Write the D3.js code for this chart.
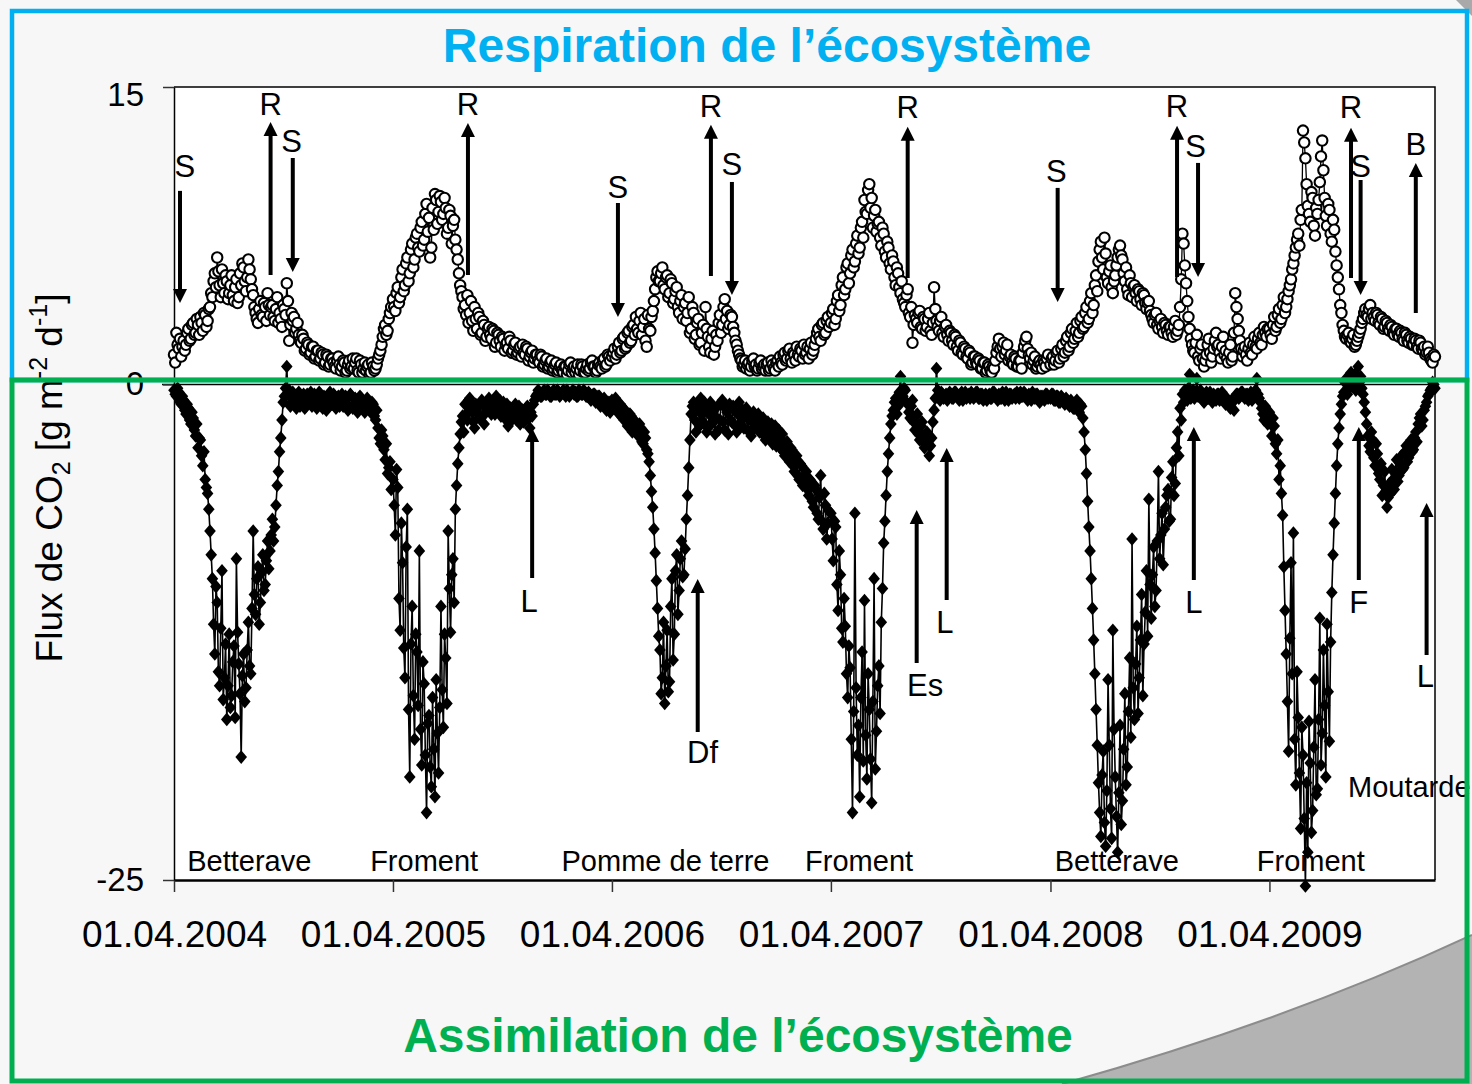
<!DOCTYPE html>
<html><head><meta charset="utf-8">
<script src="https://cdn.jsdelivr.net/npm/d3@7"></script>
<style>
body{margin:0;background:#f7f7f7;}
svg{display:block;font-family:"Liberation Sans",Arial,sans-serif;}
</style>
</head><body>
<svg id="chart" width="1472" height="1084"></svg>
<script>
// ---------- DATA ----------
// Each season starts 1 April; main arrays hold values on days 0,4,8,...; "mid" arrays on days 2,6,10,...
const seasonYears = [2004, 2005, 2006, 2007, 2008, 2009];
const stepDays = 4;

// Ecosystem respiration (g CO2 m-2 d-1)
const reco2004 = [1.5,2.6,1.8,1.4,2.2,2.0,2.8,2.3,3.1,2.6, 3.0,3.4,2.7,3.5,3.2,3.9,4.4,5.6,6.4,5.0,
  5.8,4.6,5.2,4.6,5.5,4.2,5.3,4.4,5.0,5.9, 4.7,6.3,5.3,4.5,3.6,3.1,4.2,3.4,3.9,4.6,
  3.5,4.0,3.2,4.4,3.6,2.9,3.8,5.1,2.2,3.6, 3.4,2.8,2.5,2.1,2.3,1.8,2.0,1.6,1.9,1.4,
  1.7,1.3,1.5,1.1,1.4,1.0,1.3,0.9,1.2,1.0, 0.9,1.1,0.7,1.2,0.9,0.8,1.3,0.6,1.0,0.8,
  0.7,1.0,0.6,0.9,0.8,1.3,1.7,2.4,3.0,2.7,3.6];
const reco2004mid = [1.1,2.0,2.3,1.9,1.7,2.6,2.2,3.0,2.5,3.3, 2.5,3.1,3.6,2.9,3.8,4.6,5.2,4.9,5.7,4.4,
  5.1,5.5,4.3,5.0,4.5,4.9,4.1,5.6,6.1,5.2, 5.4,5.8,4.8,3.9,3.3,3.8,3.5,4.1,3.2,4.0,
  3.9,3.4,3.8,3.1,3.3,4.0,3.5,4.2,3.0,3.2, 2.6,3.1,2.2,2.5,1.7,2.1,1.5,1.9,1.3,1.7,
  1.2,1.6,1.0,1.5,0.9,1.3,1.1,0.8,1.4,0.7, 1.2,0.6,1.0,0.8,1.3,1.1,0.7,1.2,0.6,1.1,
  0.9,0.5,1.1,0.7,1.0,1.5,2.0,2.8,2.5,3.3,3.9];
const reco2005 = [4.3,3.7,4.9,4.4,5.8,5.0,6.4,5.6,7.1,6.3, 7.6,6.7,8.2,7.3,9.1,8.4,6.9,7.8,9.3,8.7,
  9.2,8.6,8.9,7.9,8.5,8.0,7.3,6.3,5.0,4.4, 4.0,4.5,3.6,3.2,3.9,2.8,3.4,2.6,3.0,2.4,
  2.9,2.3,2.7,2.1,2.5,1.9,2.3,2.0,1.8,2.2, 1.7,2.1,1.6,1.9,2.0,1.5,1.8,1.4,1.7,1.3,
  1.5,1.1,1.4,1.0,1.3,0.9,1.2,0.8,1.1,0.7, 1.0,0.6,0.9,0.7,1.1,0.8,0.6,1.0,0.7,0.9,
  0.6,1.0,0.8,1.2,0.9,0.7,1.1,0.8,1.3,1.0,1.4];
const reco2005mid = [3.9,4.6,4.1,5.4,4.7,6.1,5.2,6.8,5.9,7.4, 6.9,7.9,7.0,8.6,7.7,6.4,8.9,9.6,8.1,9.5,
  8.3,9.4,7.6,8.8,7.1,8.3,6.8,5.6,4.7,3.8, 3.5,3.1,4.2,2.7,3.3,3.6,2.5,3.2,2.2,2.8,
  2.5,2.8,1.9,2.6,2.2,2.4,1.7,2.1,2.4,1.6, 2.0,1.5,1.8,1.4,1.6,1.9,1.2,1.6,1.1,1.5,
  1.2,1.5,0.9,1.2,0.8,1.1,0.7,1.0,0.6,0.9, 0.7,0.9,0.5,1.0,0.6,0.9,0.8,0.5,1.0,0.6,
  0.8,0.7,1.1,0.9,0.6,1.0,0.9,1.2,0.9,1.5,1.2];
const reco2006 = [1.4,1.8,1.5,2.1,1.7,2.4,1.9,2.7,2.2,3.0, 3.4,2.6,3.6,2.9,2.2,3.5,2.7,3.7,4.8,5.7,
  5.2,5.9,4.8,5.5,4.6,5.1,4.3,4.9,3.6,4.5, 3.9,3.2,4.4,2.8,3.6,2.5,3.3,2.1,3.0,3.9,
  2.4,1.6,2.7,1.9,2.2,3.5,3.0,4.3,3.7,3.0, 3.4,2.6,2.0,1.5,1.2,1.0,0.8,1.1,0.9,1.3,
  1.0,0.8,1.2,0.9,0.7,1.1,0.8,1.0,0.7,1.2, 1.4,1.0,1.6,1.3,1.8,1.1,1.5,1.9,1.4,1.7,
  2.0,1.6,1.3,2.1,1.7,2.3,2.8,2.2,3.1,2.6,3.4];
const reco2006mid = [1.6,1.3,1.9,1.6,2.3,1.8,2.6,2.1,2.9,2.5, 2.8,3.2,2.5,3.3,1.9,2.8,3.4,4.2,5.4,5.2,
  5.6,5.0,5.4,4.4,5.3,4.1,4.7,3.9,4.2,3.3, 4.1,3.6,2.6,3.9,2.3,3.1,2.0,2.6,1.7,2.8,
  1.9,2.3,1.5,2.5,3.1,2.6,3.9,3.3,2.8,3.5, 2.9,2.2,1.7,1.3,0.9,1.2,1.0,0.7,1.2,0.9,
  0.7,1.1,0.8,1.0,1.0,0.7,1.2,0.8,1.1,0.9, 1.1,1.5,1.2,1.7,1.3,1.6,1.2,1.5,1.8,1.3,
  1.5,1.9,1.8,1.5,2.0,2.6,2.4,3.0,2.5,3.2,2.9];
const reco2007 = [3.1,3.8,3.3,4.5,4.0,5.4,4.8,6.1,5.6,6.8, 6.2,7.5,6.9,8.2,9.3,8.6,10.1,9.4,8.5,7.7,
  8.2,7.0,7.6,6.4,6.9,5.8,6.2,5.0,5.6,4.6, 4.3,3.9,4.8,3.4,2.1,3.5,3.1,3.7,2.8,3.3,
  2.9,3.6,2.5,4.9,3.2,2.7,3.4,2.4,3.0,2.2, 2.6,2.0,2.4,1.7,2.1,1.5,1.8,1.3,1.6,1.1,
  1.4,1.0,1.2,0.8,1.1,0.7,0.9,0.6,0.8,1.6, 2.3,1.4,2.1,1.7,1.2,1.5,1.0,1.3,0.9,1.2,
  1.6,2.2,1.8,1.3,1.0,1.4,0.9,1.2,0.8,1.1,1.3];
const reco2007mid = [3.6,3.0,4.2,3.7,5.0,4.5,5.9,5.1,6.5,5.9, 7.1,6.6,7.9,7.4,8.7,9.8,8.9,7.9,8.8,8.1,
  7.4,7.9,6.7,7.2,6.1,6.5,5.4,5.9,4.9,5.2, 4.1,4.5,3.6,3.9,3.0,3.3,3.6,2.9,3.4,2.7,
  3.3,2.7,3.1,3.8,2.9,3.2,2.6,2.9,2.5,2.7, 2.2,2.5,1.9,2.2,1.6,1.9,1.4,1.7,1.0,1.4,
  1.1,1.3,0.8,1.1,0.6,1.0,0.7,0.9,1.2,1.9, 1.8,1.9,1.5,2.0,1.4,1.1,1.4,0.9,1.2,0.8,
  1.9,2.4,1.5,1.6,1.2,0.8,1.1,1.0,1.2,0.9,1.5];
const reco2008 = [1.0,1.4,1.2,1.7,1.3,2.0,1.6,2.4,1.9,2.8, 2.3,3.1,2.6,3.4,2.9,3.9,3.3,4.6,4.0,5.5,
  6.2,7.2,5.8,6.6,5.1,6.0,4.6,5.5,6.4,7.0, 6.3,5.2,4.8,5.5,4.4,5.0,4.2,4.7,4.0,4.5,
  3.8,4.2,3.5,3.1,3.6,2.8,3.3,2.6,3.0,2.5, 2.9,2.4,3.2,2.7,3.9,7.6,6.0,4.2,2.8,2.0,
  1.6,2.5,1.2,2.0,0.9,1.5,2.3,1.1,1.8,2.6, 2.0,1.3,2.4,1.7,1.1,2.0,1.4,4.6,3.3,2.2,
  1.4,1.9,1.2,2.1,1.5,2.4,1.8,2.6,2.0,2.9,2.4];
const reco2008mid = [1.3,1.0,1.6,1.1,1.8,1.4,2.2,1.7,2.6,2.1, 2.7,2.4,3.2,2.8,3.6,3.1,4.2,3.6,5.0,4.7,
  6.8,6.4,7.4,5.4,5.7,4.9,5.2,6.0,6.8,6.5, 5.6,5.9,4.5,5.1,4.9,4.6,4.8,4.3,4.6,4.1,
  4.1,3.7,3.3,3.5,3.0,3.2,2.9,3.1,2.7,2.9, 2.6,2.9,2.5,3.0,5.3,7.1,5.1,3.4,2.3,1.7,
  2.1,1.4,1.8,1.3,1.2,2.0,1.6,1.4,2.2,1.9, 1.6,1.9,1.5,1.3,1.6,1.2,2.6,3.9,2.7,1.8,
  1.7,1.5,1.8,1.6,2.0,1.9,2.3,2.1,2.5,2.6,2.8];
const reco2009 = [2.8,2.3,3.4,2.9,3.8,3.3,4.4,3.9,4.7,5.3, 6.1,6.9,7.6,8.3,12.8,11.4,9.0,8.2,9.4,7.5,
  8.6,10.2,12.3,9.4,8.0,8.8,7.2,7.8,6.0,4.8, 3.6,2.7,2.3,2.6,2.1,2.5,2.0,2.4,2.8,3.3,
  3.8,3.4,4.0,3.6,3.2,3.5,3.0,3.3,2.9,3.1, 2.7,2.9,2.5,2.8,2.4,2.6,2.2,2.5,2.1,2.3,
  2.0,2.2,1.8,2.1,1.7,1.5,1.9,1.3,1.1,1.4];
const reco2009mid = [2.5,3.0,2.7,3.5,3.1,4.0,3.6,4.3,5.0,5.8, 6.5,7.3,7.0,8.8,12.2,10.1,8.6,9.7,8.0,8.9,
  9.3,11.5,10.8,8.5,9.1,7.6,8.3,6.7,5.4,4.0, 3.0,2.4,2.5,2.2,2.3,1.9,2.2,2.6,3.1,3.6,
  3.5,3.8,3.3,3.4,3.6,3.1,3.4,2.8,3.2,2.8, 3.0,2.6,2.8,2.5,2.7,2.3,2.6,2.2,2.4,2.0,
  2.3,1.9,2.2,1.8,1.9,1.6,1.6,1.2,1.5];

// Ecosystem assimilation (g CO2 m-2 d-1)
const gpp2004 = [-0.3,-0.6,-0.4,-1.0,-0.8,-1.5,-1.2,-2.0,-1.7,-2.6, -3.2,-2.8,-4.1,-4.8,-5.5,-7.4,-9.8,-13.6,-11.0,-15.2,
  -9.4,-14.8,-16.9,-12.6,-15.7,-13.2,-8.8,-14.1,-18.8,-13.6, -15.3,-12.0,-14.6,-7.4,-11.6,-9.2,-11.0,-8.6,-10.1,-7.9,
  -8.4,-6.8,-7.2,-5.1,-3.4,-1.8,-0.6,0.9,-0.3,-0.9, -0.6,-1.2,-0.4,-0.9,-0.5,-1.1,-0.7,-0.4,-1.0,-0.6,
  -0.8,-0.5,-1.2,-0.7,-0.9,-0.4,-1.0,-0.6,-0.8,-1.1, -0.5,-0.9,-0.7,-1.2,-0.6,-1.0,-0.8,-1.3,-0.7,-0.9,
  -1.2,-0.8,-1.4,-1.0,-1.8,-2.2,-3.0,-2.6,-3.8,-4.5,-3.9];
const gpp2004mid = [-0.5,-0.2,-0.9,-0.6,-1.3,-1.0,-1.8,-1.4,-2.3,-2.0, -2.7,-3.6,-3.4,-5.2,-6.3,-8.6,-12.1,-10.2,-14.5,-12.3,
  -15.9,-13.1,-15.2,-16.3,-14.0,-16.8,-12.5,-15.6,-14.7,-16.0, -13.4,-14.2,-11.3,-10.6,-9.8,-12.1,-9.5,-10.4,-8.9,-9.3,
  -7.6,-7.9,-6.1,-4.4,-2.7,-0.9,-0.2,-0.5,-1.1,-0.4, -1.0,-0.5,-1.1,-0.6,-1.2,-0.5,-0.9,-1.1,-0.5,-1.2,
  -0.4,-1.1,-0.6,-1.3,-0.5,-1.0,-0.5,-1.2,-0.6,-0.7, -1.1,-0.6,-1.3,-0.5,-1.2,-0.7,-1.4,-0.6,-1.1,-1.4,
  -0.7,-1.3,-0.9,-1.6,-1.3,-2.7,-2.3,-3.3,-3.0,-4.2,-5.3];
const gpp2005 = [-4.8,-7.6,-5.2,-12.4,-9.0,-14.8,-6.3,-19.8,-11.2,-17.9, -13.5,-8.4,-19.2,-15.1,-21.6,-16.7,-20.3,-18.4,-14.9,-19.6,
  -11.2,-17.3,-13.8,-7.4,-12.5,-8.8,-6.3,-4.0,-2.5,-1.6, -1.0,-1.8,-0.7,-1.4,-2.2,-1.1,-1.7,-0.8,-2.0,-1.3,
  -0.7,-1.5,-1.0,-0.6,-1.2,-1.6,-0.9,-1.4,-2.1,-1.2, -1.7,-1.0,-1.5,-2.0,-1.3,-1.8,-1.1,-2.2,-1.6,-0.8,
  -0.5,-0.4,-0.6,-0.3,-0.5,-0.4,-0.6,-0.3,-0.5,-0.4, -0.5,-0.3,-0.6,-0.4,-0.5,-0.3,-0.4,-0.6,-0.4,-0.5,
  -0.4,-0.6,-0.5,-0.7,-0.5,-0.8,-0.6,-1.0,-0.7,-1.3,-0.9];
const gpp2005mid = [-6.1,-4.3,-10.8,-7.0,-13.3,-8.2,-16.4,-13.1,-15.7,-12.6, -16.2,-17.4,-14.0,-18.7,-17.1,-19.3,-15.8,-20.8,-17.6,-16.3,
  -15.4,-12.6,-16.1,-10.3,-9.6,-11.0,-5.1,-3.2,-1.9,-2.4, -1.5,-0.8,-1.2,-1.9,-1.0,-1.5,-1.0,-1.6,-1.1,-0.9,
  -1.3,-0.9,-1.5,-1.1,-0.8,-1.3,-1.7,-1.0,-1.5,-1.8, -1.2,-1.8,-1.1,-1.5,-1.9,-1.2,-1.7,-1.4,-1.0,-0.6,
  -0.3,-0.6,-0.4,-0.5,-0.3,-0.6,-0.4,-0.5,-0.3,-0.6, -0.4,-0.5,-0.3,-0.6,-0.4,-0.5,-0.6,-0.3,-0.5,-0.3,
  -0.6,-0.4,-0.8,-0.5,-0.9,-0.6,-1.1,-0.8,-1.2,-1.0,-1.4];
const gpp2006 = [-0.8,-1.2,-0.9,-1.5,-1.1,-1.8,-1.4,-2.0,-1.6,-2.3, -1.9,-2.6,-2.2,-3.0,-2.7,-3.5,-4.6,-6.2,-8.5,-11.3,
  -13.4,-14.8,-16.1,-12.4,-15.0,-9.8,-12.6,-8.6,-10.4,-7.9, -9.6,-6.8,-4.2,-1.5,-0.9,-2.4,-1.3,-0.7,-1.9,-1.2,
  -2.2,-0.9,-1.6,-2.5,-1.1,-1.8,-0.8,-2.3,-1.4,-1.0, -1.9,-1.3,-2.4,-0.9,-1.6,-2.2,-1.2,-1.8,-2.6,-1.4,
  -2.0,-1.5,-2.3,-1.7,-2.8,-1.9,-2.4,-3.0,-2.1,-2.7, -3.2,-2.5,-3.6,-2.9,-3.9,-3.3,-4.4,-3.6,-4.8,-4.1,
  -5.0,-4.4,-5.6,-4.9,-6.2,-5.3,-6.8,-4.6,-7.3,-6.1,-7.0];
const gpp2006mid = [-1.1,-0.7,-1.4,-1.0,-1.6,-1.3,-2.1,-1.5,-2.4,-1.9, -2.5,-2.0,-2.9,-2.4,-3.3,-3.9,-5.4,-7.3,-9.9,-12.7,
  -15.6,-12.0,-14.2,-15.5,-11.2,-13.9,-9.4,-11.6,-8.8,-9.7, -8.3,-5.6,-2.8,-1.1,-1.8,-1.0,-2.1,-1.5,-0.9,-2.4,
  -1.5,-2.0,-1.2,-1.7,-2.3,-1.0,-1.9,-1.2,-2.5,-1.8, -1.1,-2.1,-1.5,-2.0,-1.3,-1.4,-2.3,-1.5,-1.7,-2.2,
  -1.6,-2.4,-1.8,-2.6,-2.1,-2.7,-2.0,-2.5,-3.1,-2.3, -2.8,-3.4,-3.0,-3.7,-3.2,-4.1,-3.8,-4.6,-4.0,-5.1,
  -4.6,-5.3,-4.8,-5.9,-5.1,-6.5,-5.7,-6.9,-5.5,-7.8,-6.4];
const gpp2007 = [-6.5,-8.9,-7.2,-11.4,-9.6,-13.0,-12.2,-15.8,-14.3,-21.6, -6.5,-18.7,-20.8,-13.5,-10.9,-19.9,-16.4,-21.1,-9.8,-17.5,
  -14.2,-12.0,-8.0,-5.6,-3.5,-2.0,-1.3,-0.7,-1.1,0.4, -0.6,-0.3,-1.0,-1.7,-0.8,-2.3,-1.5,-2.8,-1.9,-3.2,
  -2.4,-3.6,-2.7,-1.3,0.8,-0.6,-0.4,-0.7,-0.5,-0.6, -0.5,-0.7,-0.4,-0.6,-0.5,-0.8,-0.4,-0.6,-0.7,-0.5,
  -0.6,-0.4,-0.7,-0.5,-0.6,-0.8,-0.5,-0.7,-0.4,-0.6, -0.5,-0.7,-0.6,-0.4,-0.8,-0.5,-0.6,-0.7,-0.5,-0.4,
  -0.6,-0.5,-0.8,-0.6,-0.4,-0.7,-0.5,-0.9,-0.6,-0.8,-0.5];
const gpp2007mid = [-7.8,-6.9,-10.1,-8.4,-12.3,-10.8,-14.6,-13.2,-17.9,-16.5, -15.3,-17.2,-15.8,-19.0,-17.7,-14.6,-18.9,-16.0,-19.4,-15.2,
  -16.6,-10.3,-6.9,-4.4,-2.7,-1.6,-0.9,-1.5,-0.4,-0.8, -0.2,-0.9,-1.4,-1.1,-1.9,-1.6,-2.5,-2.1,-2.9,-2.6,
  -3.0,-3.1,-1.9,-0.7,-0.3,-0.8,-0.5,-0.6,-0.8,-0.4, -0.7,-0.4,-0.6,-0.8,-0.4,-0.6,-0.7,-0.5,-0.4,-0.7,
  -0.4,-0.7,-0.5,-0.8,-0.5,-0.6,-0.7,-0.4,-0.6,-0.8, -0.7,-0.4,-0.8,-0.6,-0.5,-0.7,-0.5,-0.4,-0.7,-0.6,
  -0.4,-0.7,-0.5,-0.8,-0.6,-0.5,-0.8,-0.6,-0.7,-0.5,-0.7];
const gpp2008 = [-0.7,-0.5,-0.8,-0.6,-0.9,-0.7,-1.0,-0.8,-1.1,-0.9, -1.2,-0.8,-1.4,-1.1,-2.4,-4.5,-7.2,-9.8,-12.9,-16.4,
  -20.1,-22.8,-18.5,-23.3,-14.9,-21.4,-12.4,-19.8,-23.6,-17.2, -21.0,-15.6,-19.3,-13.8,-7.8,-16.9,-12.2,-14.8,-10.6,-13.1,
  -9.4,-5.8,-11.8,-8.2,-10.4,-4.4,-7.6,-9.1,-6.2,-5.3, -6.8,-3.9,-5.0,-2.4,-1.2,-0.5,-0.3,-0.8,0.5,-0.4,
  -0.7,0.3,-0.6,-0.5,-0.9,-0.4,-0.7,-0.6,-0.5,-0.8, -0.5,-0.7,-0.6,-1.0,-0.8,-1.2,-0.9,-0.7,-0.5,-0.6,
  -0.4,-0.7,-0.5,-0.6,-0.8,-0.5,0.3,-0.7,-1.2,-1.8,-1.4];
const gpp2008mid = [-0.5,-0.8,-0.6,-0.9,-0.6,-0.9,-0.7,-1.0,-0.8,-1.2, -0.9,-1.3,-1.0,-1.7,-3.3,-5.9,-8.4,-11.3,-14.6,-18.2,
  -21.6,-19.7,-22.1,-20.5,-18.2,-22.9,-17.4,-21.8,-20.6,-22.2, -18.4,-20.2,-16.5,-17.8,-15.3,-14.1,-16.6,-12.9,-15.7,-11.5,
  -12.7,-10.1,-9.6,-11.2,-7.9,-8.8,-6.5,-7.3,-5.6,-6.9, -4.7,-5.6,-3.2,-3.6,-1.8,-0.9,-0.6,-0.2,-0.7,-0.3,
  -0.4,-0.6,-0.3,-0.8,-0.5,-0.7,-0.4,-0.9,-0.6,-0.5, -0.8,-0.4,-0.9,-0.7,-1.1,-0.8,-1.3,-0.5,-0.7,-0.4,
  -0.6,-0.5,-0.8,-0.4,-0.6,-0.3,-0.5,-0.9,-1.5,-1.1,-2.0];
const gpp2009 = [-1.4,-2.6,-2.1,-3.5,-4.8,-5.5,-9.2,-13.6,-18.5,-9.0, -7.5,-20.2,-16.8,-22.4,-18.7,-25.3,-23.6,-19.1,-21.5,-14.9,
  -20.4,-11.8,-17.6,-16.2,-12.1,-18.0,-10.5,-7.0,-4.1,-2.2, -1.0,-0.4,0.3,-0.2,0.6,0.2,-0.3,0.9,0.4,-0.5,
  -1.4,-2.6,-3.4,-2.8,-4.1,-3.5,-4.8,-5.6,-4.4,-6.2, -5.0,-4.3,-5.3,-3.8,-4.6,-3.6,-4.2,-3.1,-3.7,-2.8,
  -3.3,-2.4,-2.0,-1.5,-1.8,-1.1,-0.6,-0.3,0.1,-0.2];
const gpp2009mid = [-2.0,-1.7,-3.0,-2.8,-4.1,-6.6,-11.4,-16.0,-12.8,-14.6, -17.9,-14.5,-19.6,-17.3,-21.9,-20.1,-17.0,-22.6,-18.3,-20.7,
  -16.9,-19.2,-13.4,-19.8,-15.5,-13.0,-8.6,-5.5,-3.0,-1.5, -0.6,0.1,-0.5,0.4,-0.1,0.5,0.3,0.1,-0.2,-0.9,
  -2.0,-3.1,-2.4,-3.7,-3.0,-4.5,-4.0,-5.1,-5.4,-5.7, -5.5,-4.8,-4.4,-4.9,-4.0,-4.3,-3.4,-3.9,-3.0,-3.4,
  -2.7,-2.9,-1.7,-2.1,-1.3,-0.9,-0.5,-0.2,0.0];

const recoSeasons = [reco2004, reco2005, reco2006, reco2007, reco2008, reco2009];
const recoSeasonsMid = [reco2004mid, reco2005mid, reco2006mid, reco2007mid, reco2008mid, reco2009mid];
const gppSeasons = [gpp2004, gpp2005, gpp2006, gpp2007, gpp2008, gpp2009];
const gppSeasonsMid = [gpp2004mid, gpp2005mid, gpp2006mid, gpp2007mid, gpp2008mid, gpp2009mid];

const yTickValues = [15, 0, -25];
const xTickDates = ["2004-04-01","2005-04-01","2006-04-01","2007-04-01","2008-04-01","2009-04-01"];
const xDomain = ["2004-04-01", "2010-01-02"];
const yDomain = [-25, 15];

const cropNames = ["Betterave","Froment","Pomme de terre","Froment","Betterave","Froment","Moutarde"];
const cropDates = ["2004-04-23","2005-02-22","2006-01-07","2007-02-17","2008-04-08","2009-03-11","2009-08-10"];
const cropValues = [-24.55,-24.55,-24.55,-24.55,-24.55,-24.55,-20.8];

// Management arrows
const annoLabels = ["S","R","S","R","S","R","S","R","S","R","S","R","S","B","L","Df","Es","L","L","F","L"];
const annoDates = ["2004-04-11","2004-09-09","2004-10-16","2005-08-04","2006-04-11","2006-09-13","2006-10-18","2007-08-07","2008-04-13","2008-10-29","2008-12-03","2009-08-15","2009-08-31","2009-12-01","2005-11-19","2006-08-22","2007-08-22","2007-10-11","2008-11-26","2009-08-28","2009-12-19"];
const annoTail = [9.76,5.52,11.42,5.52,9.15,5.47,10.21,5.37,9.91,5.42,11.17,5.37,10.31,3.6,-9.77,-17.53,-14.05,-10.88,-9.87,-9.87,-13.65];
const annoHead = [4.11,13.24,5.67,13.19,3.4,13.09,4.51,12.99,4.16,13.04,5.42,12.94,4.51,11.17,-2.2,-9.82,-6.34,-3.21,-2.15,-2.15,-5.98];
const annoLabelValue = [10.46,13.59,11.72,13.59,9.4,13.49,10.56,13.44,10.21,13.49,11.47,13.44,10.46,11.57,-11.48,-19.1,-15.72,-12.54,-11.53,-11.53,-15.26];
const annoLabelDate = ["2004-04-19",null,"2004-10-14",null,null,null,null,null,"2008-04-11",null,"2008-11-29",null,null,null,"2005-11-14","2006-08-30","2007-09-05","2007-10-08",null,null,"2009-12-17"];

// ---------- BUILD ----------
const DAY = 864e5;
const parse = s => new Date(s + "T00:00:00Z");
function build(seasons, mids) {
  const out = [];
  seasons.forEach((arr, k) => {
    const start = Date.UTC(seasonYears[k], 3, 1);
    arr.forEach((v, j) => {
      out.push({ date: new Date(start + stepDays * j * DAY), value: v });
      const m = mids[k][j];
      if (m !== undefined) out.push({ date: new Date(start + (stepDays * j + 2) * DAY), value: m });
    });
  });
  return out;
}
const reco = build(recoSeasons, recoSeasonsMid);
const gpp = build(gppSeasons, gppSeasonsMid);

const svg = d3.select("#chart");
const W = 1472, H = 1084;
const x = d3.scaleUtc().domain(xDomain.map(parse)).range([174, 1435]);
const y = d3.scaleLinear().domain(yDomain).range([880, 87]);

svg.append("rect").attr("width", W).attr("height", H).attr("fill", "#f7f7f7");
svg.append("rect").attr("x", x.range()[0]).attr("y", y.range()[1])
  .attr("width", x.range()[1] - x.range()[0]).attr("height", y.range()[0] - y.range()[1])
  .attr("fill", "#ffffff");

// page curl decoration
svg.append("path").attr("d", "M1062,1084 Q1290,1020 1472,935 L1472,1084 Z").attr("fill", "#b3b3b3");
svg.append("path").attr("d", "M1062,1084 Q1290,1020 1472,935").attr("fill", "none").attr("stroke", "#8c8c8c").attr("stroke-width", 2);
svg.append("path").attr("d", "M1456,0 L1472,0 L1472,16 Q1462,6 1456,0 Z").attr("fill", "#a9a9a9");

// zero line
svg.append("line").attr("x1", x.range()[0] - 12).attr("x2", x.range()[1])
  .attr("y1", y(0)).attr("y2", y(0)).attr("stroke", "#000").attr("stroke-width", 1.5);

// axes
const xAxis = d3.axisBottom(x).tickValues(xTickDates.map(parse))
  .tickFormat(d3.utcFormat("%d.%m.%Y")).tickSize(12).tickSizeOuter(0);
const gx = svg.append("g").attr("transform", `translate(0,${y.range()[0]})`).call(xAxis);
gx.select(".domain").attr("stroke", "#000").attr("stroke-width", 2.5);
gx.selectAll(".tick line").attr("stroke", "#333").attr("stroke-width", 1.5);
gx.selectAll(".tick text").attr("y", 67).attr("dy", 0).attr("fill", "#000")
  .style("font-size", "37px").style("font-family", "'Liberation Sans',Arial,sans-serif");

const yAxis = d3.axisLeft(y).tickValues(yTickValues).tickFormat(d => String(d)).tickSize(11).tickSizeOuter(0);
const gy = svg.append("g").attr("transform", `translate(${x.range()[0]},0)`).call(yAxis);
gy.select(".domain").attr("stroke", "#000").attr("stroke-width", 1.5);
gy.selectAll(".tick line").attr("stroke", "#333").attr("stroke-width", 1.5);
gy.selectAll(".tick text").attr("x", -30).attr("fill", "#000")
  .style("font-size", "33px").style("font-family", "'Liberation Sans',Arial,sans-serif");
gy.selectAll(".tick").filter(d => d === 15).select("text").attr("dy", "0.55em");

svg.append("path").attr("d", `M${x.range()[0]},${y.range()[1]} H${x.range()[1]} V${y.range()[0]}`)
  .attr("fill", "none").attr("stroke", "#000").attr("stroke-width", 1.5);

// respiration
const line = d3.line().x(d => x(d.date)).y(d => y(d.value));
svg.append("path").datum(reco).attr("d", line).attr("fill", "none").attr("stroke", "#000").attr("stroke-width", 1.3);
svg.append("g").selectAll("circle").data(reco).join("circle")
  .attr("cx", d => x(d.date)).attr("cy", d => y(d.value)).attr("r", 5.2)
  .attr("fill", "#fff").attr("stroke", "#000").attr("stroke-width", 2.1);

// assimilation
const diamondType = { draw(ctx) { ctx.moveTo(0, -6.8); ctx.lineTo(5.8, 0); ctx.lineTo(0, 6.8); ctx.lineTo(-5.8, 0); ctx.closePath(); } };
svg.append("path").datum(gpp).attr("d", line).attr("fill", "none").attr("stroke", "#000").attr("stroke-width", 1.6);
svg.append("g").selectAll("path").data(gpp).join("path")
  .attr("d", d3.symbol().type(diamondType))
  .attr("transform", d => `translate(${x(d.date)},${y(d.value)})`).attr("fill", "#000");

// crop labels
svg.append("g").selectAll("text").data(cropNames).join("text")
  .attr("x", (d, i) => x(parse(cropDates[i]))).attr("y", (d, i) => y(cropValues[i]))
  .style("font-size", "29px").attr("fill", "#000").text(d => d);

// arrows
const ga = svg.append("g");
annoLabels.forEach((lab, i) => {
  const ax = x(parse(annoDates[i]));
  const y1 = y(annoTail[i]), y2 = y(annoHead[i]);
  const dir = Math.sign(y2 - y1);
  const hl = 14, hw = 7;
  ga.append("line").attr("x1", ax).attr("x2", ax).attr("y1", y1).attr("y2", y2 - dir * (hl - 2))
    .attr("stroke", "#000").attr("stroke-width", 4);
  ga.append("path").attr("d", `M${ax},${y2} L${ax - hw},${y2 - dir * hl} L${ax + hw},${y2 - dir * hl} Z`).attr("fill", "#000");
  const lx = annoLabelDate[i] ? x(parse(annoLabelDate[i])) : ax;
  ga.append("text").attr("x", lx).attr("y", y(annoLabelValue[i])).attr("text-anchor", "middle")
    .style("font-size", "31px").attr("fill", "#000").text(lab);
});

// y-axis title
const yt = svg.append("text").attr("transform", "translate(62,478) rotate(-90)")
  .attr("text-anchor", "middle").style("font-size", "37px").attr("fill", "#000");
yt.append("tspan").text("Flux de CO");
yt.append("tspan").attr("dy", 8).style("font-size", "25px").text("2");
yt.append("tspan").attr("dy", -8).text(" [g m");
yt.append("tspan").attr("dy", -15).style("font-size", "25px").text("-2");
yt.append("tspan").attr("dy", 15).text(" d");
yt.append("tspan").attr("dy", -15).style("font-size", "25px").text("-1");
yt.append("tspan").attr("dy", 15).text("]");

// frames
svg.append("rect").attr("x", 12).attr("y", 11).attr("width", 1455).attr("height", 369)
  .attr("fill", "none").attr("stroke", "#00b0f0").attr("stroke-width", 4.5);
svg.append("rect").attr("x", 12).attr("y", 380).attr("width", 1455).attr("height", 701)
  .attr("fill", "none").attr("stroke", "#00b050").attr("stroke-width", 5);

// titles
svg.append("text").attr("x", 767).attr("y", 62).attr("text-anchor", "middle")
  .style("font-size", "48px").style("font-weight", "bold").attr("fill", "#00b0f0")
  .text("Respiration de l\u2019écosystème");
svg.append("text").attr("x", 738).attr("y", 1052).attr("text-anchor", "middle")
  .style("font-size", "48px").style("font-weight", "bold").attr("fill", "#00b050")
  .text("Assimilation de l\u2019écosystème");
</script>
</body></html>
